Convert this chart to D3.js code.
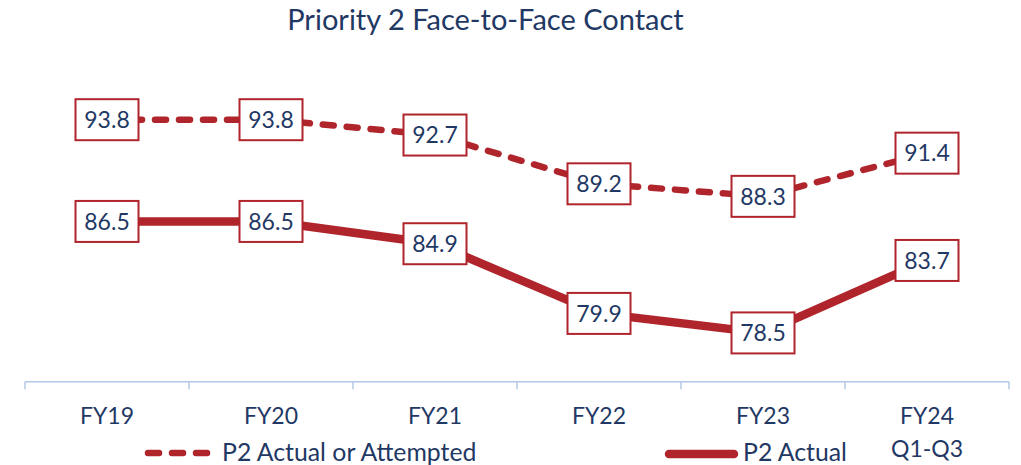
<!DOCTYPE html>
<html><head><meta charset="utf-8">
<script src="https://cdn.jsdelivr.net/npm/d3@7"></script>
<style>body{margin:0;background:#fff}svg{display:block}</style>
</head><body>
<svg id="c" width="1021" height="465"></svg>
<script>
const categories = ["FY19","FY20","FY21","FY22","FY23","FY24"];
const categoryLines = [["FY19"],["FY20"],["FY21"],["FY22"],["FY23"],["FY24","Q1-Q3"]];
const attempted = [93.8, 93.8, 92.7, 89.2, 88.3, 91.4];
const actual = [86.5, 86.5, 84.9, 79.9, 78.5, 83.7];
const seriesNames = ["P2 Actual or Attempted", "P2 Actual"];
const title = "Priority 2 Face-to-Face Contact";
const yDomain = [75, 100];

const RED = "#b0252c", NAVY = "#1f3864", AXIS = "#b4c7e7";
const FONT = "Lato, 'Open Sans', sans-serif";
const svg = d3.select("#c");
const x = d3.scaleBand().domain(categories).range([25, 1009]).padding(0);
const y = d3.scaleLinear().domain(yDomain).range([381.7, 33.3]);
const cx = c => x(c) + x.bandwidth()/2;

svg.append("text").attr("x", 485.5).attr("y", 30).attr("text-anchor","middle")
  .attr("font-family", FONT).attr("font-size", 29).attr("fill", NAVY).text(title);

// axis
const ax = svg.append("g");
ax.append("line").attr("x1", x.range()[0]).attr("x2", x.range()[1])
  .attr("y1", y(yDomain[0])).attr("y2", y(yDomain[0])).attr("stroke", AXIS).attr("stroke-width", 1.5);
const bounds = categories.map(c => x(c)).concat([x.range()[1]]);
ax.selectAll("line.t").data(bounds).join("line").attr("class","t")
  .attr("x1", d=>d).attr("x2", d=>d).attr("y1", y(yDomain[0])).attr("y2", y(yDomain[0])+7.5)
  .attr("stroke", AXIS).attr("stroke-width", 1.5);
const lbl = ax.selectAll("text.c").data(categories).join("text").attr("class","c")
  .attr("x", d=>cx(d)).attr("y", 424).attr("text-anchor","middle")
  .attr("font-family", FONT).attr("font-size", 23).attr("fill", NAVY);
lbl.each(function(d,i){
  const t = d3.select(this);
  categoryLines[i].forEach((s,j)=>{
    t.append("tspan").attr("x", cx(d)).attr("dy", j===0?0:32.5).text(s);
  });
});

const line = d3.line().x((d,i)=>cx(categories[i])).y(d=>y(d));
svg.append("path").attr("d", line(attempted)).attr("fill","none").attr("stroke", RED)
  .attr("stroke-width", 6.5).attr("stroke-dasharray","11,13").attr("stroke-linecap","round");
svg.append("path").attr("d", line(actual)).attr("fill","none").attr("stroke", RED)
  .attr("stroke-width", 8.5).attr("stroke-linecap","round");

function labels(vals){
  const g = svg.append("g").selectAll("g").data(vals).join("g")
    .attr("transform",(d,i)=>`translate(${cx(categories[i])},${y(d)})`);
  g.append("rect").attr("x",-31.5).attr("y",-20.5).attr("width",63).attr("height",41)
    .attr("fill","#fff").attr("stroke", RED).attr("stroke-width", 2);
  g.append("text").attr("y", 8.3).attr("text-anchor","middle")
    .attr("font-family", FONT).attr("font-size", 23).attr("fill", NAVY).text(d=>d.toFixed(1));
}
labels(attempted);
labels(actual);

// legend
svg.append("line").attr("x1",148).attr("x2",207).attr("y1",453).attr("y2",453)
  .attr("stroke",RED).attr("stroke-width",6.5).attr("stroke-dasharray","11,13").attr("stroke-linecap","round");
svg.append("text").attr("x",222).attr("y",461).attr("font-family",FONT).attr("font-size",24.8)
  .attr("fill",NAVY).text(seriesNames[0]);
svg.append("line").attr("x1",669).attr("x2",734).attr("y1",454).attr("y2",454)
  .attr("stroke",RED).attr("stroke-width",8.5).attr("stroke-linecap","round");
svg.append("text").attr("x",743).attr("y",461).attr("font-family",FONT).attr("font-size",24.8)
  .attr("fill",NAVY).text(seriesNames[1]);
</script>
</body></html>
